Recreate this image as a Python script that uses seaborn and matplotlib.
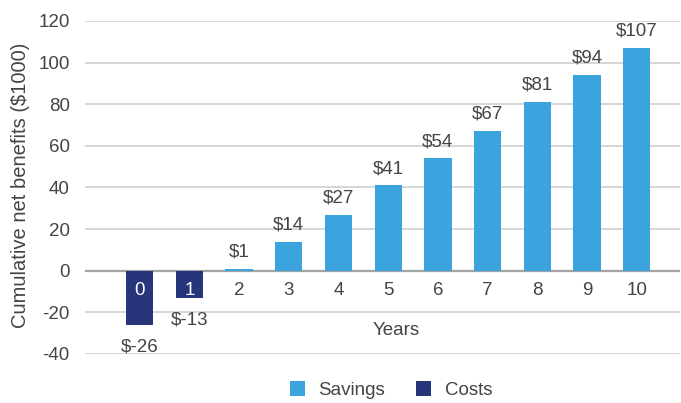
import matplotlib
matplotlib.use("Agg")
import matplotlib.pyplot as plt
import seaborn as sns
import pandas as pd

# Cumulative net benefits per year, in $1000
years = ["0", "1", "2", "3", "4", "5", "6", "7", "8", "9", "10"]
net_benefits = [-26, -13, 1, 14, 27, 41, 54, 67, 81, 94, 107]
kinds = ["Costs", "Costs", "Savings", "Savings", "Savings", "Savings",
         "Savings", "Savings", "Savings", "Savings", "Savings"]
y_ticks = [-40, -20, 0, 20, 40, 60, 80, 100, 120]

SAVINGS_COLOR = "#3ba3dd"
COSTS_COLOR = "#27357a"
TEXT_COLOR = "#444444"
FS = 13.5

sns.set_style("white")
plt.rcParams["font.family"] = ["Liberation Sans", "DejaVu Sans"]

df = pd.DataFrame({"Year": years, "Benefit": net_benefits, "Kind": kinds})

fig = plt.figure(figsize=(6.81, 4.03), dpi=100)
ax = fig.add_axes([0.1248, 0.1216, 0.8737, 0.8263])

sns.barplot(data=df, x="Year", y="Benefit", hue="Kind",
            hue_order=["Savings", "Costs"],
            palette={"Savings": SAVINGS_COLOR, "Costs": COSTS_COLOR},
            order=years, dodge=False, width=0.55, saturation=1,
            linewidth=0, edgecolor="none", ax=ax, zorder=2)

ax.set_ylim(-40, 120)
ax.set_xlim(-1.1, 10.87)
ax.set_yticks(y_ticks)
ax.set_yticklabels([str(t) for t in y_ticks])
ax.tick_params(axis="y", length=0, pad=11, labelsize=FS, labelcolor=TEXT_COLOR)
ax.set_xticks([])
ax.yaxis.grid(True, color="#cfcfcf", linewidth=1.2, zorder=0)
ax.set_axisbelow(True)
ax.axhline(0, color="#a3a3a3", linewidth=1.6, zorder=1)
for s in ax.spines.values():
    s.set_visible(False)

# Year labels sit just under the zero line
for i, (yr, kind) in enumerate(zip(years, kinds)):
    ax.annotate(yr, xy=(i, 0), xytext=(0, -8), textcoords="offset points",
                ha="center", va="top", fontsize=FS,
                color="white" if kind == "Costs" else TEXT_COLOR, zorder=5)

# Value labels above positive bars, below negative ones
for i, v in enumerate(net_benefits):
    if v >= 0:
        ax.annotate(f"${v}", xy=(i, v), xytext=(0, 6), textcoords="offset points",
                    ha="center", va="bottom", fontsize=FS, color=TEXT_COLOR)
    else:
        ax.annotate(f"$-{abs(v)}", xy=(i, v), xytext=(0, -10), textcoords="offset points",
                    ha="center", va="top", fontsize=FS, color=TEXT_COLOR)

ax.set_ylabel("Cumulative net benefits ($1000)", fontsize=14.5, color=TEXT_COLOR)
ax.yaxis.set_label_coords(-0.093, 0.507)
ax.set_xlabel("Years", fontsize=FS, color=TEXT_COLOR)
ax.xaxis.set_label_coords(0.523, 0.072)
ax.xaxis.label.set_va("center")

handles, labels = ax.get_legend_handles_labels()
ax.get_legend().remove()
fig.legend(handles, labels, loc="center", bbox_to_anchor=(0.574, 0.032),
           ncol=2, frameon=False, fontsize=FS, labelcolor=TEXT_COLOR,
           handlelength=0.8, handleheight=0.8, handletextpad=0.7,
           columnspacing=1.7)

fig.savefig("out.png", dpi=100)
